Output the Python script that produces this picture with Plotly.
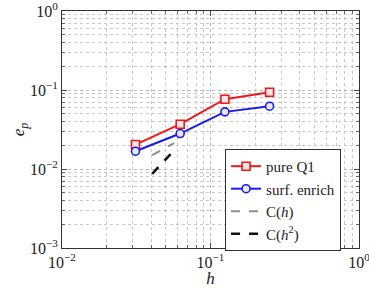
import plotly.graph_objects as go

h = [1/32, 1/16, 1/8, 1/4]
e_pure = [0.0204, 0.0369, 0.0764, 0.0937]
e_surf = [0.0168, 0.0281, 0.0529, 0.0624]
h_ref = [0.0405, 0.0568]
c_h = [0.0150, 0.0212]
c_h2 = [0.0087, 0.0172]
names = ["pure Q1", "surf. enrich", "C(<i>h</i>)", "C(<i>h</i><sup>2</sup>)"]
xtickvals = [0.01, 0.1, 1]
xticktext = ["10<sup>−2</sup>", "10<sup>−1</sup>", "10<sup>0</sup>"]
ytickvals = [0.001, 0.01, 0.1, 1]
yticktext = ["10<sup>−3</sup>", "10<sup>−2</sup>", "10<sup>−1</sup>", "10<sup>0</sup>"]

FONT = "Liberation Serif"
fig = go.Figure()
fig.add_trace(go.Scatter(x=h, y=e_pure, name=names[0], mode="lines+markers",
                         line=dict(color="#f01818", width=2),
                         marker=dict(symbol="square", size=8, color="#fde8e8",
                                     line=dict(color="#f01818", width=1.6))))
fig.add_trace(go.Scatter(x=h, y=e_surf, name=names[1], mode="lines+markers",
                         line=dict(color="#1a1aee", width=2),
                         marker=dict(symbol="circle", size=8, color="#e8e8fd",
                                     line=dict(color="#1a1aee", width=1.6))))
fig.add_trace(go.Scatter(x=h_ref, y=c_h, name=names[2], mode="lines",
                         line=dict(color="#909090", width=2, dash="dash")))
fig.add_trace(go.Scatter(x=h_ref, y=c_h2, name=names[3], mode="lines",
                         line=dict(color="#111111", width=2.5, dash="dash")))

axis_common = dict(
    type="log", showline=True, linecolor="#333", linewidth=1, mirror="allticks",
    ticks="inside", ticklen=5, tickcolor="#444", automargin=True,
    ticklabeloverflow="allow",
    showgrid=True, gridcolor="#b8b8b8", griddash="dot", gridwidth=1,
    zeroline=False,
    tickfont=dict(family=FONT, size=16, color="#222"),
    minor=dict(showgrid=True, gridcolor="#c8c8c8", griddash="dot", ticks="inside",
               ticklen=3, tickcolor="#666", dtick="D1"),
)
fig.update_xaxes(**axis_common, range=[-2, 0], tickvals=xtickvals, ticktext=xticktext,
                 title=dict(text="<i>h</i>", font=dict(family=FONT, size=17, color="#222"),
                            standoff=4))
fig.update_yaxes(**axis_common, range=[-3, 0], tickvals=ytickvals, ticktext=yticktext,
                 title=dict(text="<i>e</i><sub><i>p</i></sub>",
                            font=dict(family=FONT, size=17, color="#222"), standoff=0))

fig.update_layout(
    width=369, height=288,
    margin=dict(l=62, r=10, t=11, b=40, autoexpand=False),
    paper_bgcolor="white", plot_bgcolor="white",
    font=dict(family=FONT, size=15, color="#222"),
    legend=dict(x=0.549, y=0.418, xanchor="left", yanchor="top",
                bgcolor="white", bordercolor="#333", borderwidth=1,
                font=dict(family=FONT, size=15, color="#222"),
                tracegroupgap=0, itemwidth=30),
    showlegend=True,
)
fig.write_html("out.html")
